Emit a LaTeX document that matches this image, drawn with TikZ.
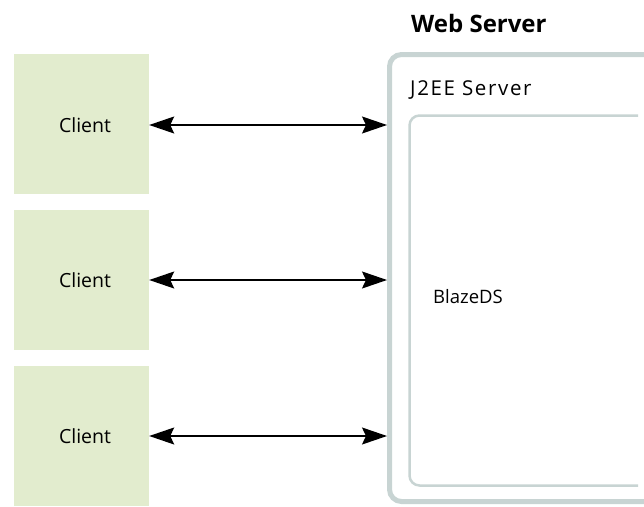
\documentclass[tikz,border=0pt]{standalone}
\usepackage{fontspec}
\setmainfont{Open Sans}
\usetikzlibrary{arrows.meta}
\definecolor{clientfill}{HTML}{E2ECCE}
\definecolor{srvline}{HTML}{C8D4D3}
\begin{document}
\begin{tikzpicture}[x=1pt,y=-1pt,
  client/.style={fill=clientfill, draw=none, minimum width=135pt, minimum height=140pt, inner sep=0pt},
  clabel/.style={inner sep=0pt, font=\fontsize{19.5}{22}\selectfont},
  lbl/.style={inner sep=0pt, anchor=west, font=\fontsize{19.5}{22}\selectfont},
  tip/.style={Stealth[length=25pt,width=17pt,inset=4pt]},
  link/.style={black, line width=1.5pt, {Stealth[length=25pt,width=17pt,inset=4pt]}-{Stealth[length=25pt,width=17pt,inset=4pt]}}
]
\useasboundingbox (0,0) rectangle (644,506);
% clients
\node[client] (c1) at (81.5,124) {};
\node[client] (c2) at (81.5,280) {};
\node[client] (c3) at (81.5,436) {};
\node[clabel] (t1) at (85,125) {Client};
\node[clabel] (t2) at (85,280) {Client};
\node[clabel] (t3) at (85,436) {Client};
% outer server
\draw[srvline, line width=5pt, rounded corners=12pt] (660,54.5) -- (389.5,54.5) -- (389.5,501.5) -- (660,501.5);
% inner
\draw[srvline, line width=2.5pt, rounded corners=10pt] (638,115.5) -- (409.5,115.5) -- (409.5,485.5) -- (638,485.5);
\coordinate (s1) at (387,125);
\coordinate (s2) at (387,280);
\coordinate (s3) at (387,436);
\node[lbl, font=\fontsize{24}{27}\bfseries] (ws) at (411,23) {Web Server};
\node[lbl, font=\fontsize{20.5}{23}\selectfont\addfontfeatures{LetterSpace=8}] (j2) at (410,90) {J2EE Server};
\node[lbl, font=\fontsize{18.5}{21}\selectfont] (bz) at (433,297) {BlazeDS};
\draw[link] (c1.east |- s1) -- (s1);
\draw[link] (c2.east |- s2) -- (s2);
\draw[link] (c3.east |- s3) -- (s3);
\end{tikzpicture}
\end{document}
